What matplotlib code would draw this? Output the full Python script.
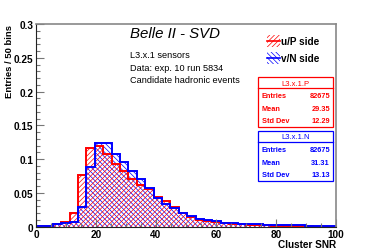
import numpy as np
import matplotlib
matplotlib.use("Agg")
import matplotlib.pyplot as plt
from matplotlib.patches import Rectangle
from matplotlib.lines import Line2D

plt.rcParams["font.family"] = ["Liberation Sans", "DejaVu Sans"]
plt.rcParams["hatch.linewidth"] = 0.5

W, H = 374, 253

# histogram contents, 50 bins of width 2.8 over 0-140 (only the visible part listed)
BIN_WIDTH = 2.8
red_vals = [0.0005, 0.0015, 0.004, 0.0065, 0.020, 0.076, 0.117, 0.120, 0.107,
            0.093, 0.082, 0.071, 0.062, 0.056, 0.0445, 0.0375, 0.029, 0.021,
            0.014, 0.0104, 0.008, 0.0065, 0.005, 0.004, 0.0035, 0.003, 0.0025,
            0.002, 0.0015, 0.001, 0.0008, 0.0005, 0.0003, 0.0002, 0.0001, 0.0001]
blue_vals = [0.0005, 0.0015, 0.004, 0.005, 0.007, 0.029, 0.088, 0.124, 0.124,
             0.108, 0.0955, 0.082, 0.071, 0.057, 0.043, 0.034, 0.027, 0.0203,
             0.0154, 0.0114, 0.0099, 0.008, 0.006, 0.0053, 0.0045, 0.004, 0.0035,
             0.003, 0.0027, 0.0024, 0.002, 0.0018, 0.0016, 0.0014, 0.0012, 0.001]

series_names = ["u/P side", "v/N side"]
stat_titles = ["L3.x.1.P", "L3.x.1.N"]
stat_entries = ["82675", "82675"]
stat_means = ["29.35", "31.31"]
stat_stds = ["12.29", "13.13"]
info_lines = ["L3.x.1 sensors", "Data: exp. 10 run 5834", "Candidate hadronic events"]

RED = "#ff0000"
BLUE = "#0000ff"
HATCH_RED = "///////"
HATCH_BLUE = "\\\\\\\\\\\\\\"


def fx(px):
    return px / W


def fy(py):
    return 1 - py / H


def main():
    fig = plt.figure(figsize=(W / 100, H / 100), dpi=100)
    ax = fig.add_axes([fx(36), fy(227.7), fx(336) - fx(36), fy(25) - fy(227.7)])

    edges = BIN_WIDTH * np.arange(len(red_vals) + 1)
    # blue hatch first so the red one sits on top in the overlap
    ax.stairs(blue_vals, edges, fill=True, facecolor="none", edgecolor=BLUE,
              hatch=HATCH_BLUE, linewidth=0)
    ax.stairs(red_vals, edges, fill=True, facecolor="none", edgecolor=RED,
              hatch=HATCH_RED, linewidth=0)
    ax.stairs(red_vals, edges, color=RED, linewidth=1.4)
    ax.stairs(blue_vals, edges, color=BLUE, linewidth=1.4)

    ax.set_xlim(0, 100)
    ax.set_ylim(0, 0.3)
    ax.set_xticks([0, 20, 40, 60, 80, 100])
    ax.set_xticklabels(["0", "20", "40", "60", "80", "100"])
    ax.set_xticks(np.arange(0, 101, 5), minor=True)
    ax.set_yticks([0, 0.05, 0.1, 0.15, 0.2, 0.25, 0.3])
    ax.set_yticklabels(["0", "0.05", "0.1", "0.15", "0.2", "0.25", "0.3"])
    ax.set_yticks(np.arange(0, 0.301, 0.01), minor=True)
    ax.tick_params(which="both", direction="in", top=False, right=False,
                   color="#777777", width=0.8, labelsize=7.2)
    ax.tick_params(which="major", length=6, pad=2)
    ax.tick_params(which="minor", length=3)
    for lab in ax.get_xticklabels() + ax.get_yticklabels():
        lab.set_fontweight("bold")
    for side in ["top", "right"]:
        ax.spines[side].set_color("#888888")
        ax.spines[side].set_linewidth(1.2)
    for side in ["left", "bottom"]:
        ax.spines[side].set_color("#222222")
        ax.spines[side].set_linewidth(0.8)

    fig.text(fx(336), fy(245), "Cluster SNR", ha="right", va="center",
             fontsize=7.2, fontweight="bold")
    fig.text(fx(10), fy(25), "Entries / 50 bins", ha="center", va="top",
             rotation=90, fontsize=6.8, fontweight="bold")

    fig.text(fx(130), fy(38), "Belle II - SVD", ha="left", va="baseline",
             fontsize=10.8, style="italic")
    for i, line in enumerate(info_lines):
        fig.text(fx(130), fy(56 + 12.5 * i), line, ha="left", va="center",
                 fontsize=6.6)

    # legend
    for i, (name, col, h) in enumerate(zip(series_names, [RED, BLUE],
                                           [HATCH_RED, HATCH_BLUE])):
        yc = 42 + 17 * i
        fig.patches.append(Rectangle((fx(267), fy(yc + 6)), fx(13), fy(yc - 6) - fy(yc + 6),
                                     transform=fig.transFigure, facecolor="none",
                                     edgecolor=col, hatch=h, linewidth=0))
        fig.lines.append(Line2D([fx(267), fx(280)], [fy(yc), fy(yc)],
                                transform=fig.transFigure, color=col, linewidth=1.2))
        fig.text(fx(281), fy(yc), name, ha="left", va="center",
                 fontsize=7.2, fontweight="bold")

    # stat boxes
    for i, col in enumerate([RED, BLUE]):
        top = 78 + 54 * i
        bot = top + 50
        fig.patches.append(Rectangle((fx(258), fy(bot)), fx(333) - fx(258), fy(top) - fy(bot),
                                     transform=fig.transFigure, facecolor="white",
                                     edgecolor=col, linewidth=0.9))
        fig.lines.append(Line2D([fx(258), fx(333)], [fy(top + 11), fy(top + 11)],
                                transform=fig.transFigure, color=col, linewidth=0.9))
        fig.text(fx(295.5), fy(top + 6), stat_titles[i], ha="center", va="center",
                 fontsize=5.5, color=col)
        rows = [("Entries", stat_entries[i]), ("Mean", stat_means[i]),
                ("Std Dev", stat_stds[i])]
        for j, (k, v) in enumerate(rows):
            yy = top + 19 + 12.5 * j
            fig.text(fx(262), fy(yy), k, ha="left", va="center", fontsize=5.3,
                     color=col, fontweight="bold")
            fig.text(fx(330), fy(yy), v, ha="right", va="center", fontsize=5.3,
                     color=col, fontweight="bold")

    fig.savefig("out.png", dpi=100)


if __name__ == "__main__":
    main()
